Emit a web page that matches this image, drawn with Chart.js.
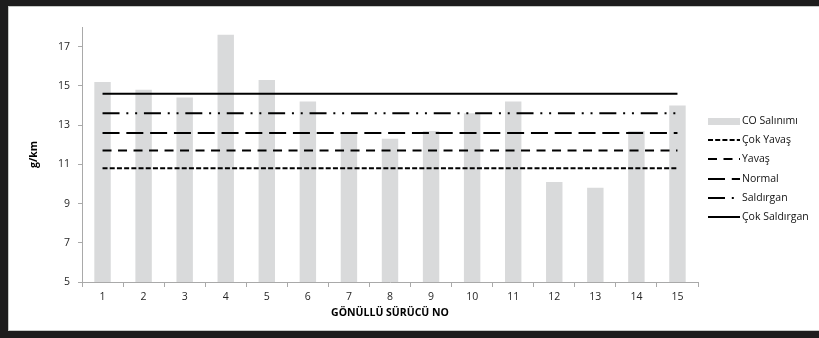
<!DOCTYPE html>
<html>
<head>
<meta charset="utf-8">
<script src="https://cdn.jsdelivr.net/npm/chart.js@4/dist/chart.umd.min.js"></script>
<style>
  html, body { margin: 0; padding: 0; background: #fff; overflow: hidden; }
  .band { position: fixed; background: #1d1d1d; }
  #bandTop { left: 0; top: 0; width: 100%; height: 6px; }
  #bandLeft { left: 0; top: 0; width: 8px; height: 338px; }
  #bandBottom { left: 0; top: 331px; width: 100%; height: 7px; }
  #panel { position: fixed; left: 8px; top: 6px; width: 100%; height: 325px; box-sizing: border-box;
           background: #fff; border-top: 1px solid #c6c9c6; border-left: 1px solid #c6c9c6; border-bottom: 1px solid #c6c9c6; }
  #wrap { position: fixed; left: 9px; top: 7px; width: 810px; height: 323px; overflow: hidden; }
  #c { display: block; }
</style>
</head>
<body>
<div class="band" id="bandTop"></div>
<div class="band" id="bandLeft"></div>
<div class="band" id="bandBottom"></div>
<div id="panel"></div>
<div id="wrap"><canvas id="c" width="810" height="323"></canvas></div>
<script>
// Volunteer driver numbers (x categories)
const drivers = ['1','2','3','4','5','6','7','8','9','10','11','12','13','14','15'];
// CO emission per driver, g/km
const coEmission = [15.2, 14.8, 14.4, 17.6, 15.3, 14.2, 12.6, 12.3, 12.7, 13.6, 14.2, 10.1, 9.8, 12.7, 14.0];
// Reference levels per driving style, g/km
const cokYavas     = [10.8, 10.8, 10.8, 10.8, 10.8, 10.8, 10.8, 10.8, 10.8, 10.8, 10.8, 10.8, 10.8, 10.8, 10.8];
const yavas        = [11.7, 11.7, 11.7, 11.7, 11.7, 11.7, 11.7, 11.7, 11.7, 11.7, 11.7, 11.7, 11.7, 11.7, 11.7];
const normal       = [12.6, 12.6, 12.6, 12.6, 12.6, 12.6, 12.6, 12.6, 12.6, 12.6, 12.6, 12.6, 12.6, 12.6, 12.6];
const saldirgan    = [13.6, 13.6, 13.6, 13.6, 13.6, 13.6, 13.6, 13.6, 13.6, 13.6, 13.6, 13.6, 13.6, 13.6, 13.6];
const cokSaldirgan = [14.6, 14.6, 14.6, 14.6, 14.6, 14.6, 14.6, 14.6, 14.6, 14.6, 14.6, 14.6, 14.6, 14.6, 14.6];
// Y axis tick values
const yTicks = [5, 7, 9, 11, 13, 15, 17];

const FONT = "'Open Sans', 'DejaVu Sans', sans-serif";
const AXIS_GRAY = '#a9a9a9';
const TEXT = '#262626';

function lineSet(label, data, dash) {
  return {
    type: 'line', label, data,
    borderColor: '#000', backgroundColor: '#000', borderWidth: 2, borderDash: dash,
    pointRadius: 0, pointHoverRadius: 0, fill: false, tension: 0, order: 0
  };
}

// Legend drawn at the right of the plot, one row per dataset
const sideLegend = {
  id: 'sideLegend',
  afterDraw(chart) {
    const ctx = chart.ctx;
    const x0 = 699, x1 = 731, y0 = 113.7, step = 19.32;
    ctx.save();
    ctx.font = '10.5px ' + FONT;
    ctx.textBaseline = 'middle';
    ctx.textAlign = 'left';
    chart.data.datasets.forEach((ds, i) => {
      const y = y0 + i * step;
      if (ds.type === 'bar' || !ds.type) {
        ctx.fillStyle = ds.backgroundColor;
        ctx.fillRect(x0, Math.round(y) - 3, x1 - x0, 7);
      } else {
        ctx.strokeStyle = ds.borderColor;
        ctx.lineWidth = ds.borderWidth;
        ctx.setLineDash(ds.borderDash || []);
        ctx.beginPath();
        ctx.moveTo(x0, Math.round(y));
        ctx.lineTo(x1, Math.round(y));
        ctx.stroke();
        ctx.setLineDash([]);
      }
      ctx.fillStyle = '#111';
      ctx.fillText(ds.label, x1 + 2, y);
    });
    ctx.restore();
  }
};

new Chart(document.getElementById('c'), {
  data: {
    labels: drivers,
    datasets: [
      { type: 'bar', label: 'CO Salınımı', data: coEmission, backgroundColor: '#d9dadb',
        barPercentage: 0.4, categoryPercentage: 1.0, order: 10 },
      lineSet('Çok Yavaş', cokYavas, [5, 2.2]),
      lineSet('Yavaş', yavas, [9, 6.5]),
      lineSet('Normal', normal, [17, 6.8]),
      lineSet('Saldırgan', saldirgan, [17, 6.8, 2, 6.8, 2, 6.8]),
      lineSet('Çok Saldırgan', cokSaldirgan, [])
    ]
  },
  options: {
    responsive: false,
    animation: false,
    devicePixelRatio: 1,
    layout: { padding: { left: 0, top: 20, right: 121, bottom: 0 } },
    plugins: { legend: { display: false }, tooltip: { enabled: false } },
    scales: {
      x: {
        type: 'category',
        offset: true,
        grid: { offset: true, drawOnChartArea: false, drawTicks: true, tickLength: 5, color: AXIS_GRAY },
        border: { color: AXIS_GRAY, width: 1 },
        ticks: { color: TEXT, font: { family: FONT, size: 10.5 }, padding: 3.5, maxRotation: 0 },
        title: { display: true, text: 'GÖNÜLLÜ SÜRÜCÜ NO', color: '#000',
                 font: { family: FONT, size: 10.5, weight: 'bold' }, padding: { top: 0, bottom: 10.4 } },
        afterFit(scale) { scale.height = 48; }
      },
      y: {
        type: 'linear',
        min: 5, max: 18,
        afterBuildTicks(scale) { scale.ticks = yTicks.map(v => ({ value: v })); },
        grid: { drawOnChartArea: false, drawTicks: true, tickLength: 4, color: AXIS_GRAY },
        border: { color: AXIS_GRAY, width: 1 },
        ticks: { color: TEXT, font: { family: FONT, size: 10.5 }, padding: 8 },
        title: { display: true, text: 'g/km', color: '#000',
                 font: { family: FONT, size: 10.5, weight: 'bold' }, padding: { top: 19.2, bottom: 0 } },
        afterFit(scale) { scale.width = 73; }
      }
    }
  },
  plugins: [sideLegend]
});
</script>
</body>
</html>
